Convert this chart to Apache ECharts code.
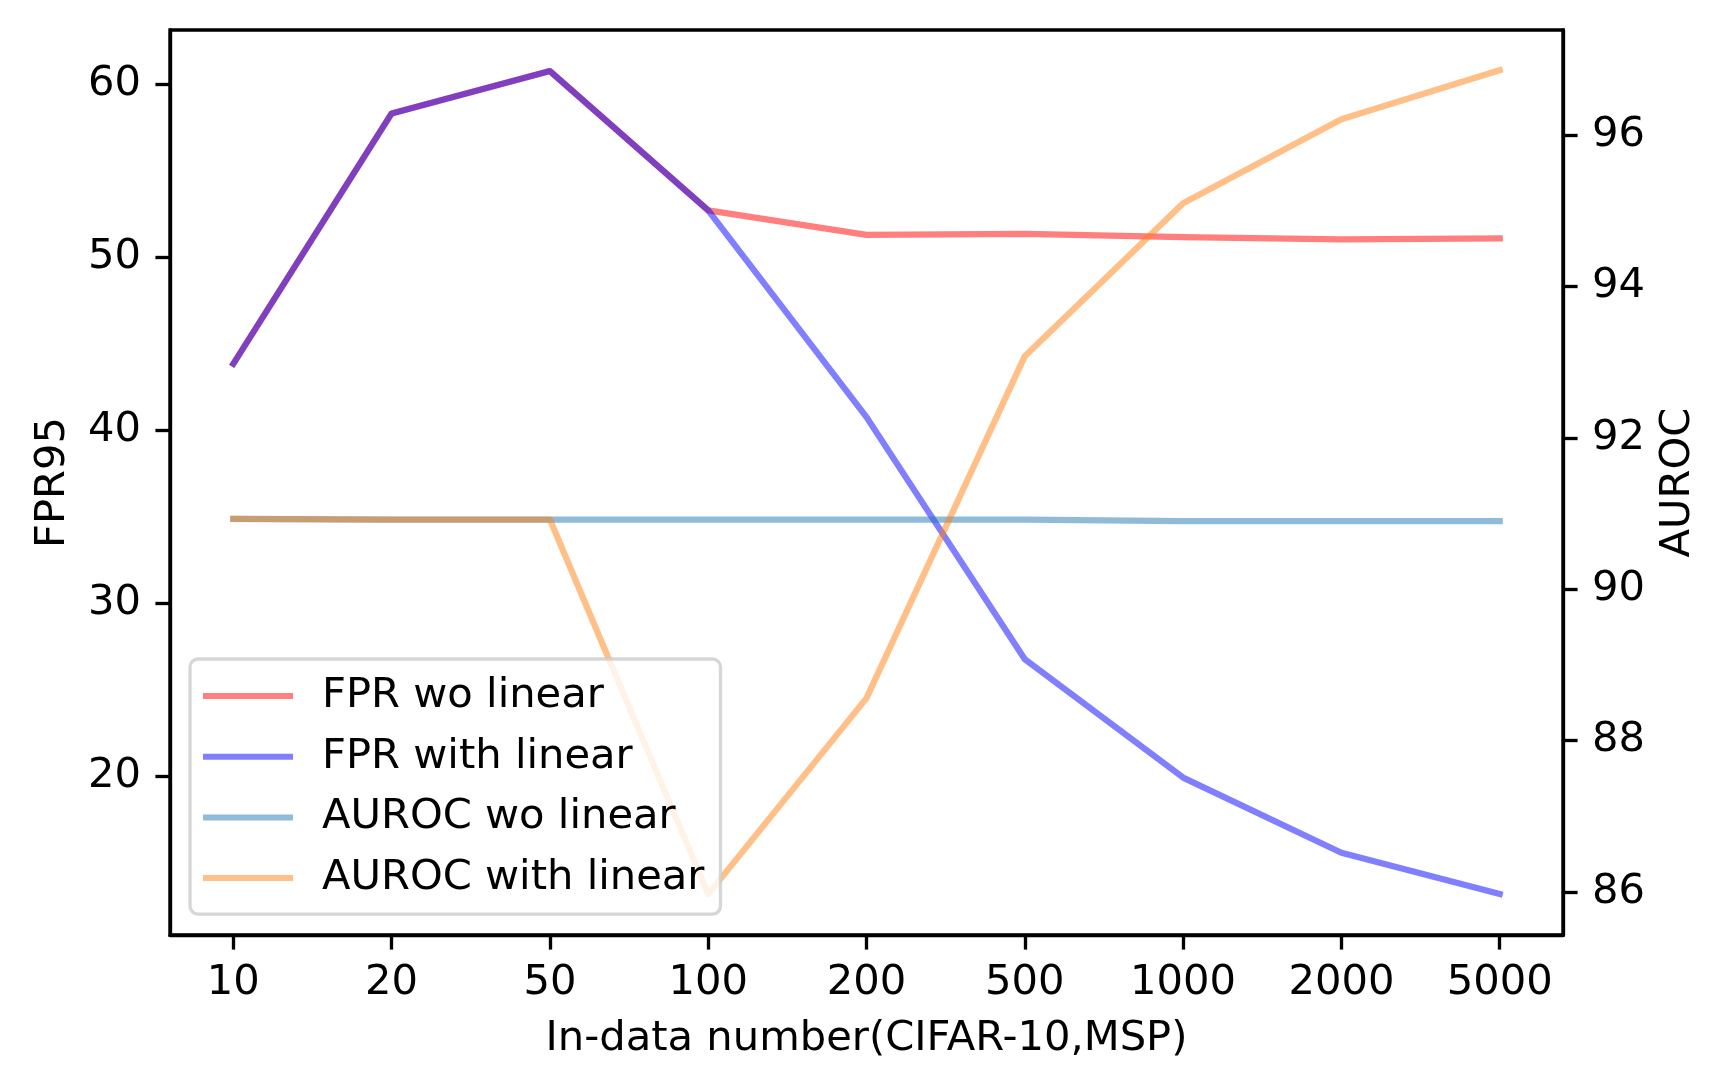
<!DOCTYPE html>
<html>
<head>
<meta charset="utf-8">
<script src="https://cdn.jsdelivr.net/npm/echarts@6/dist/echarts.min.js"></script>
<style>
html,body{margin:0;padding:0;background:#fff;}
#chart{width:1732px;height:1091px;}
</style>
</head>
<body>
<div id="chart"></div>
<script>
const categories = ['10','20','50','100','200','500','1000','2000','5000'];
const fprWoLinear = [43.84, 58.3, 60.75, 52.7, 51.29, 51.34, 51.15, 51.02, 51.09];
const fprWithLinear = [43.84, 58.3, 60.75, 52.7, 40.76, 26.78, 19.94, 15.6, 13.22];
const aurocWoLinear = [90.93, 90.92, 90.92, 90.92, 90.92, 90.92, 90.9, 90.9, 90.9];
const aurocWithLinear = [90.93, 90.92, 90.92, 85.97, 88.56, 93.08, 95.1, 96.21, 96.86];
const leftTicks = [20, 30, 40, 50, 60];
const rightTicks = [86, 88, 90, 92, 94, 96];
const seriesNames = ['FPR wo linear', 'FPR with linear', 'AUROC wo linear', 'AUROC with linear'];

const FONT = 'DejaVu Sans';
const FS = 41.67;
const LW = 6.25;
const SPINE = 3.33;
const TICKLEN = 14.6;

const idx = categories.map((c, i) => i);
const toPts = arr => arr.map((v, i) => [idx[i], v]);

const chart = echarts.init(document.getElementById('chart'), null, {renderer: 'canvas'});

function line(name, data, color, legendColor, yAxisIndex) {
  return {
    name: name,
    type: 'line',
    yAxisIndex: yAxisIndex,
    data: toPts(data),
    symbol: 'none',
    showSymbol: false,
    silent: true,
    color: legendColor,
    lineStyle: {color: color, width: LW, opacity: 0.5, cap: 'square', join: 'round'},
    itemStyle: {color: legendColor}
  };
}

const axisCommon = {
  axisLine: {show: true, onZero: false, lineStyle: {color: '#000', width: SPINE}},
  axisTick: {show: true, length: TICKLEN, lineStyle: {color: '#000', width: SPINE}},
  splitLine: {show: false},
  axisLabel: {color: '#000', fontFamily: FONT, fontSize: FS},
  nameTextStyle: {color: '#000', fontFamily: FONT, fontSize: FS}
};

chart.setOption({
  animation: false,
  backgroundColor: '#fff',
  textStyle: {fontFamily: FONT},
  grid: {
    left: 170, top: 30, right: 1732 - 1563, bottom: 1091 - 935,
    show: true, borderColor: '#000', borderWidth: SPINE, backgroundColor: 'transparent',
    containLabel: false
  },
  legend: {
    orient: 'vertical',
    left: 190, top: 659,
    data: seriesNames.map((n, i) => ({
      name: n,
      icon: 'rect',
      itemStyle: {color: ['#ff8080', '#8080ff', '#8fbbd9', '#ffbf86'][i]}
    })),
    itemWidth: 90,
    itemHeight: 6,
    itemGap: 18.7,
    padding: [16, 16, 15, 13],
    backgroundColor: 'rgba(255,255,255,0.8)',
    borderColor: 'rgba(204,204,204,0.8)',
    borderWidth: 3.3,
    borderRadius: 8,
    textStyle: {color: '#000', fontFamily: FONT, fontSize: FS, lineHeight: 42, padding: [0, 0, 0, 24]}
  },
  xAxis: Object.assign({}, axisCommon, {
    type: 'value',
    min: -0.4,
    max: 8.4,
    name: 'In-data number(CIFAR-10,MSP)',
    nameLocation: 'middle',
    nameGap: 83,
    axisTick: Object.assign({}, axisCommon.axisTick, {customValues: idx}),
    axisLabel: Object.assign({}, axisCommon.axisLabel, {
      customValues: idx,
      margin: 27,
      formatter: v => categories[Math.round(v)]
    })
  }),
  yAxis: [
    Object.assign({}, axisCommon, {
      type: 'value',
      position: 'left',
      min: 10.85,
      max: 63.12,
      name: 'FPR95',
      nameLocation: 'middle',
      nameRotate: 90,
      nameGap: 96,
      axisTick: Object.assign({}, axisCommon.axisTick, {customValues: leftTicks}),
      axisLabel: Object.assign({}, axisCommon.axisLabel, {customValues: leftTicks, margin: 29})
    }),
    Object.assign({}, axisCommon, {
      type: 'value',
      position: 'right',
      min: 85.43,
      max: 97.39,
      name: 'AUROC',
      nameLocation: 'middle',
      nameRotate: 90,
      nameGap: 94,
      axisTick: Object.assign({}, axisCommon.axisTick, {customValues: rightTicks}),
      axisLabel: Object.assign({}, axisCommon.axisLabel, {customValues: rightTicks, margin: 29})
    })
  ],
  series: [
    line(seriesNames[0], fprWoLinear, '#ff0000', '#ff8080', 0),
    line(seriesNames[1], fprWithLinear, '#0000ff', '#8080ff', 0),
    line(seriesNames[2], aurocWoLinear, '#1f77b4', '#8fbbd9', 1),
    line(seriesNames[3], aurocWithLinear, '#ff7f0e', '#ffbf86', 1)
  ]
});
</script>
</body>
</html>
